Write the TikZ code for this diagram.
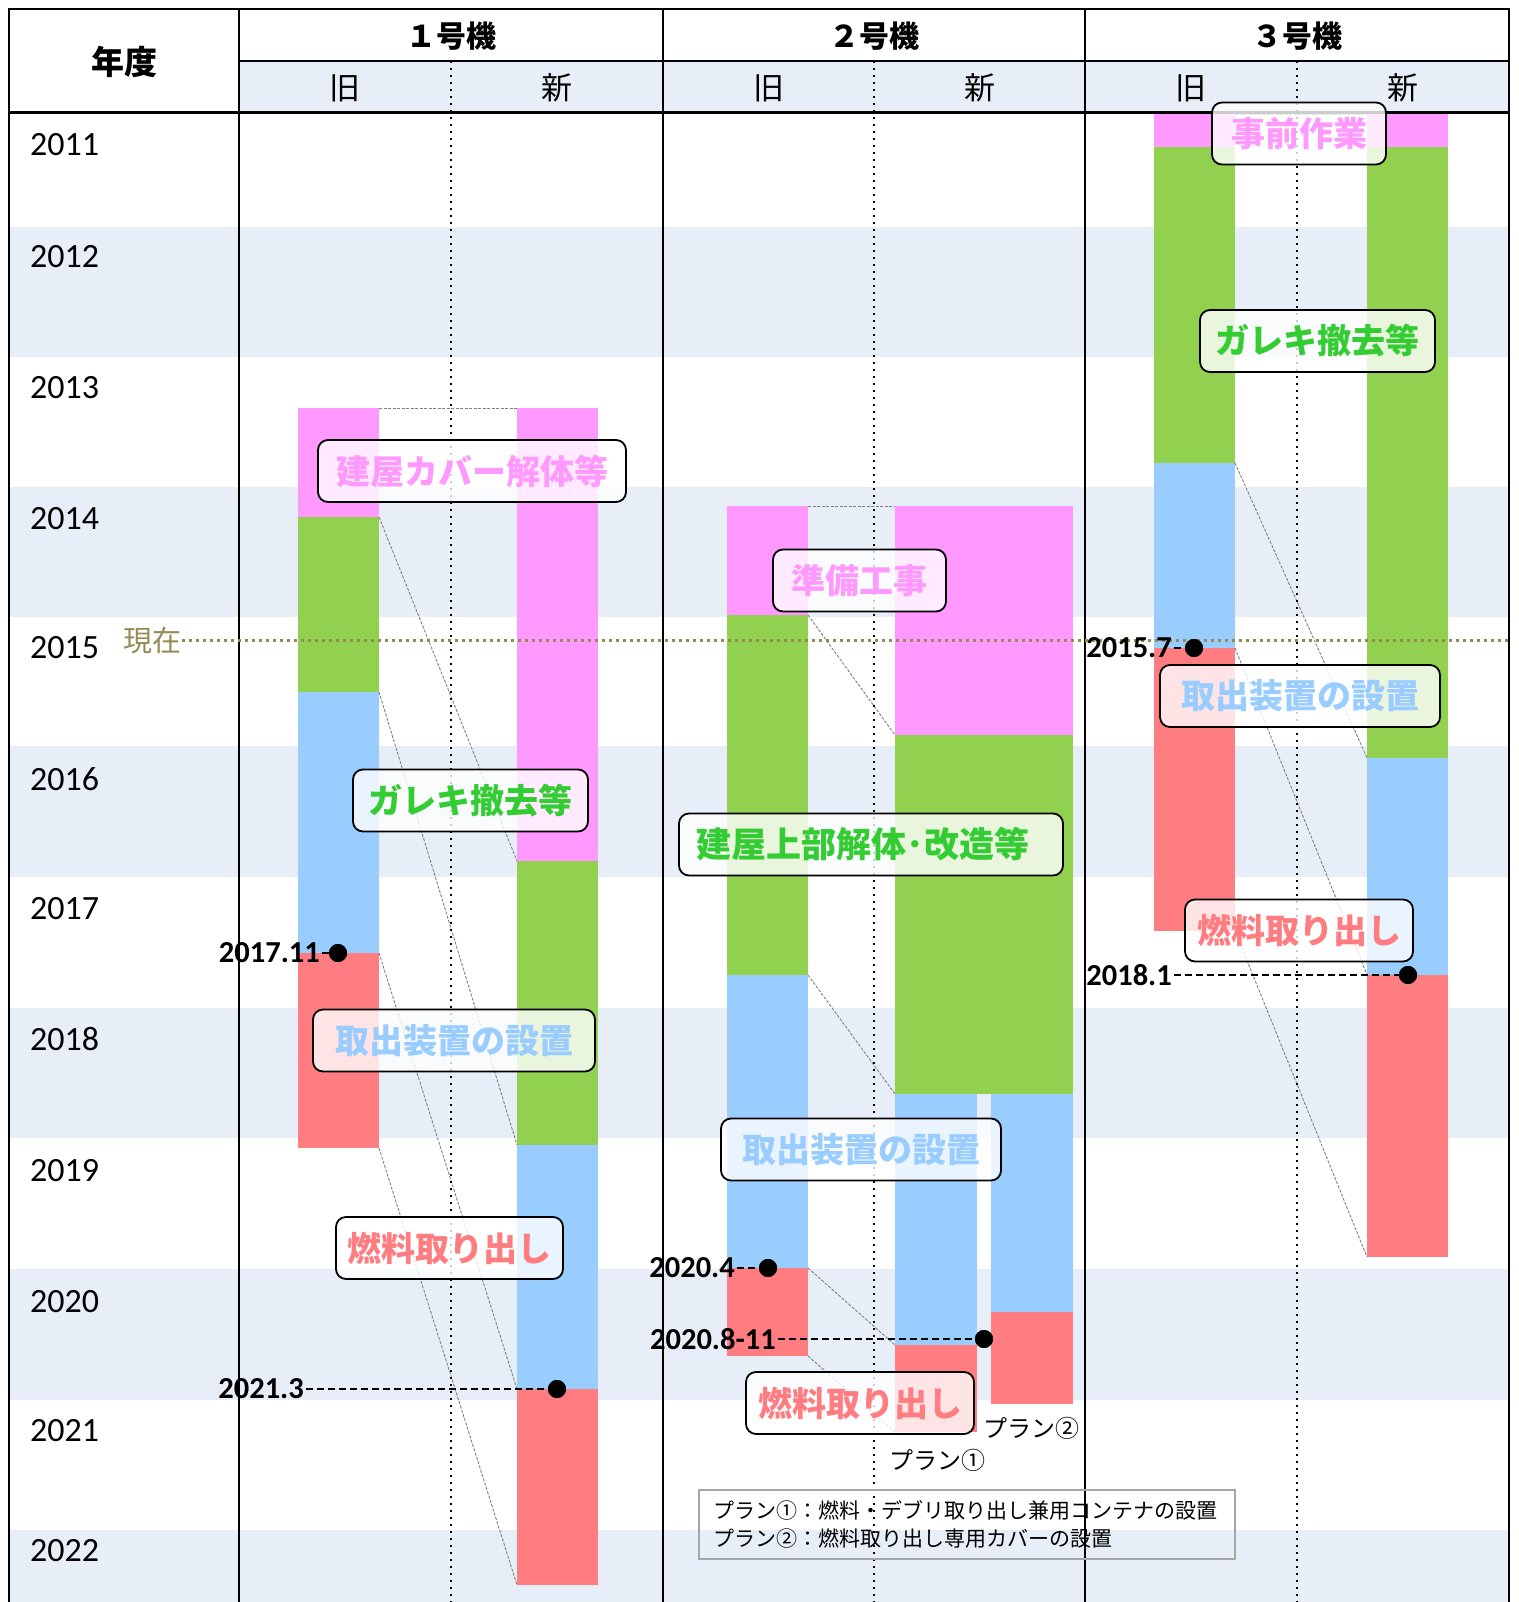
\documentclass[tikz,border=0pt]{standalone}
\usepackage{fontspec}
\setmainfont{Carlito}
\newfontfamily\jp{Noto Sans CJK JP}
\definecolor{cpink}{HTML}{FF99FF}
\definecolor{cgreen}{HTML}{92D050}
\definecolor{cblue}{HTML}{99CCFF}
\definecolor{cred}{HTML}{FF7C80}
\definecolor{tgreen}{HTML}{33CC33}
\definecolor{olivec}{HTML}{948A54}
\definecolor{bandc}{RGB}{232,238,247}
\newcommand\mkbar[6]{\node[barbox,fill=#2,minimum width={#5-#3},minimum height={#6-#4}] (#1) at (#3,#4) {};}
\begin{document}
\begin{tikzpicture}[x=1pt,y=-1pt,
  barbox/.style={draw=none,inner sep=0pt,outer sep=0pt,anchor=north west},
  conn/.style={draw=gray,line width=0.9pt,dash pattern=on 3pt off 1.5pt},
  lab/.style={draw=black,line width=1.8pt,rounded corners=10pt,fill=white,fill opacity=0.8,text opacity=1,minimum height=62pt,inner sep=0pt,font=\jp\bfseries\fontsize{34}{40}\selectfont},
  yearlab/.style={anchor=west,inner sep=0pt,font=\fontsize{34}{40}\selectfont},
  datelab/.style={anchor=east,inner sep=0pt,font=\bfseries\fontsize{30.5}{36}\selectfont},
  mdot/.style={circle,fill=black,minimum size=18pt,inner sep=0pt},
  mdash/.style={draw=black,line width=2pt,dash pattern=on 7pt off 4pt},
  hdr/.style={inner sep=0pt,font=\jp\bfseries\fontsize{30}{36}\selectfont},
  subhdr/.style={inner sep=0pt,font=\jp\fontsize{31}{36}\selectfont},
  plan/.style={inner sep=0pt,font=\jp\fontsize{24}{28}\selectfont},
  midline/.style={draw=black,line width=2pt,dash pattern=on 2pt off 5pt},
  tline/.style={draw=black,line width=2pt},
]
\useasboundingbox (0,0) rectangle (1518,1602);
\fill[white] (0,0) rectangle (1518,1602);
% shaded bands
\fill[bandc] (239,61) rectangle (1509,112);
\foreach \a/\b in {227/357,487/617,746/877,1008/1138,1269/1400,1530/1602}{
  \fill[bandc] (9,\a) rectangle (1509,\b);
}
% unit 1 bars
\mkbar{a-o-p}{cpink}{298}{408}{379}{517}
\mkbar{a-o-g}{cgreen}{298}{517}{379}{692}
\mkbar{a-o-b}{cblue}{298}{692}{379}{953}
\mkbar{a-o-r}{cred}{298}{953}{379}{1148}
\mkbar{a-n-p}{cpink}{517}{408}{598}{861}
\mkbar{a-n-g}{cgreen}{517}{861}{598}{1145}
\mkbar{a-n-b}{cblue}{517}{1145}{598}{1389}
\mkbar{a-n-r}{cred}{517}{1389}{598}{1585}
% unit 2 bars
\mkbar{b-o-p}{cpink}{727}{506}{808}{615}
\mkbar{b-o-g}{cgreen}{727}{615}{808}{975}
\mkbar{b-o-b}{cblue}{727}{975}{808}{1268}
\mkbar{b-o-r}{cred}{727}{1268}{808}{1356}
\mkbar{b-n-p}{cpink}{895}{506}{1073}{735}
\mkbar{b-n-g}{cgreen}{895}{735}{1073}{1094}
\mkbar{b-p1-b}{cblue}{895}{1094}{977}{1345}
\mkbar{b-p1-r}{cred}{895}{1345}{977}{1432}
\mkbar{b-p2-b}{cblue}{991}{1094}{1073}{1312}
\mkbar{b-p2-r}{cred}{991}{1312}{1073}{1404}
% unit 3 bars
\mkbar{c-o-p}{cpink}{1154}{114}{1235}{147}
\mkbar{c-o-g}{cgreen}{1154}{147}{1235}{463}
\mkbar{c-o-b}{cblue}{1154}{463}{1235}{648}
\mkbar{c-o-r}{cred}{1154}{648}{1235}{931}
\mkbar{c-n-p}{cpink}{1367}{114}{1448}{147}
\mkbar{c-n-g}{cgreen}{1367}{147}{1448}{758}
\mkbar{c-n-b}{cblue}{1367}{758}{1448}{975}
\mkbar{c-n-r}{cred}{1367}{975}{1448}{1257}
% connectors
\draw[conn] (a-o-p.north east) -- (a-n-p.north west);
\draw[conn] (a-o-g.north east) -- (a-n-g.north west);
\draw[conn] (a-o-b.north east) -- (a-n-b.north west);
\draw[conn] (a-o-r.north east) -- (a-n-r.north west);
\draw[conn] (a-o-r.south east) -- (a-n-r.south west);
\draw[conn] (b-o-p.north east) -- (b-n-p.north west);
\draw[conn] (b-o-g.north east) -- (b-n-g.north west);
\draw[conn] (b-o-b.north east) -- (b-p1-b.north west);
\draw[conn] (b-o-r.north east) -- (b-p1-r.north west);
\draw[conn] (b-o-r.south east) -- (b-p1-r.south west);
\draw[conn] (c-o-p.north east) -- (c-n-p.north west);
\draw[conn] (c-o-b.north east) -- (c-n-b.north west);
\draw[conn] (c-o-r.north east) -- (c-n-r.north west);
\draw[conn] (c-o-r.south east) -- (c-n-r.south west);
% mid lines
\draw[midline] (451,61) -- (451,1602);
\draw[midline] (874,61) -- (874,1602);
\draw[midline] (1297,61) -- (1297,1602);
% table lines
\draw[tline] (9,1602) -- (9,9) -- (1509,9) -- (1509,1602);
\draw[tline] (239,9) -- (239,1602);
\draw[tline] (663,9) -- (663,1602);
\draw[tline] (1085,9) -- (1085,1602);
\draw[tline] (239,61) -- (1509,61);
\draw[black,line width=3pt] (9,112.5) -- (1509,112.5);
% headers
\node[hdr,font=\jp\bfseries\fontsize{33}{38}\selectfont] (nendo) at (124,62) {年度};
\node[hdr] (h1) at (451,36) {１号機};
\node[hdr] (h2) at (874,36) {２号機};
\node[hdr] (h3) at (1297,36) {３号機};
\node[subhdr] (h1o) at (345,88) {旧};
\node[subhdr] (h1n) at (557,88) {新};
\node[subhdr] (h2o) at (768.5,88) {旧};
\node[subhdr] (h2n) at (979.5,88) {新};
\node[subhdr] (h3o) at (1191,88) {旧};
\node[subhdr] (h3n) at (1403,88) {新};
% years
\foreach \yr/\yy in {2011/145,2012/257,2013/388,2014/519,2015/648,2016/779,2017/909,2018/1039,2019/1171,2020/1302,2021/1431,2022/1551}{
  \node[yearlab] (y\yr) at (30,\yy) {\yr};
}
% now line
\node[inner sep=0pt,anchor=east,text=olivec,font=\jp\fontsize{29}{34}\selectfont] (now) at (182,641) {現在};
\coordinate (nowR) at (1509,640);
\draw[olivec,line width=3pt,dash pattern=on 3pt off 4pt] (now.east |- nowR) -- (nowR);
% labels
\node[lab,text=cpink,minimum width=308] (L-a1) at (472,471) {建屋カバー解体等};
\node[lab,text=tgreen,minimum width=235] (L-a2) at (470.5,800.5) {ガレキ撤去等};
\node[lab,text=cblue,minimum width=282] (L-a3) at (454,1040.5) {取出装置の設置};
\node[lab,text=cred,minimum width=227] (L-a4) at (449.5,1248) {燃料取り出し};
\node[lab,text=cpink,minimum width=173] (L-b1) at (859.5,580.5) {準備工事};
\node[lab,text=tgreen,minimum width=384,font=\jp\bfseries\fontsize{35}{40}\selectfont] (L-b2) at (871,844.5) {建屋上部解体･改造等\hspace*{16pt}};
\node[lab,text=cblue,minimum width=280] (L-b3) at (861,1149.5) {取出装置の設置};
\node[lab,text=cred,minimum width=228] (L-b4) at (860,1403) {燃料取り出し};
\node[lab,text=cpink,minimum width=174] (L-c1) at (1299,133.5) {事前作業};
\node[lab,text=tgreen,minimum width=235] (L-c2) at (1317.5,341) {ガレキ撤去等};
\node[lab,text=cblue,minimum width=280] (L-c3) at (1300,696) {取出装置の設置};
\node[lab,text=cred,minimum width=228] (L-c4) at (1299,930.5) {燃料取り出し};
% date markers
\node[mdot] (m1) at (338,953) {};
\node[datelab] (t1) at (320,953) {2017.11};
\node[mdot] (m2) at (557,1389) {};
\node[datelab] (t2) at (304,1389) {2021.3};
\node[mdot] (m3) at (768,1268) {};
\node[datelab] (t3) at (735,1268) {2020.4};
\node[mdot] (m4) at (984,1339) {};
\node[datelab] (t4) at (776,1339) {2020.8-11};
\node[mdot] (m5) at (1194,648) {};
\node[datelab] (t5) at (1172,648) {2015.7};
\node[mdot] (m6) at (1408,975) {};
\node[datelab] (t6) at (1172,975) {2018.1};
\foreach \i in {1,...,6}{
  \draw[mdash] ([xshift=2pt]t\i.east) -- (m\i.center);
  \fill[black] (m\i) circle (9pt);
}
% plan labels
\node[plan] (p2) at (1031,1428) {プラン②};
\node[plan] (p1) at (937,1460) {プラン①};
% legend
\node[draw=gray!70,line width=2pt,anchor=north west,minimum width=536pt,minimum height=69pt,inner xsep=14pt,inner ysep=0pt,text width=508pt,align=left,font=\jp\fontsize{21}{28}\selectfont] (legend) at (698,1489) {プラン①：燃料・デブリ取り出し兼用コンテナの設置\\プラン②：燃料取り出し専用カバーの設置};
\end{tikzpicture}
\end{document}
